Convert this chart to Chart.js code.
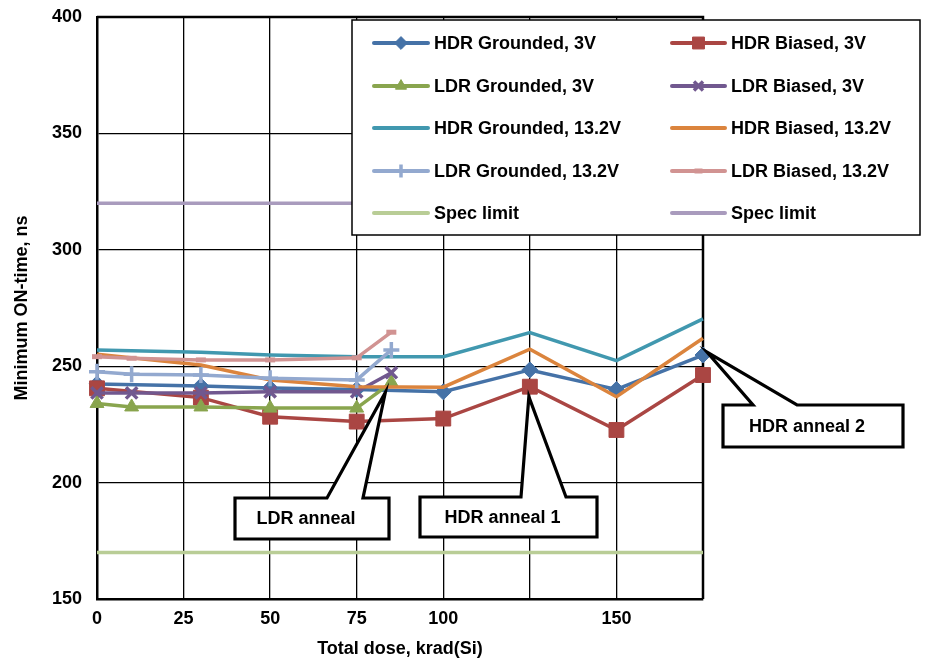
<!DOCTYPE html>
<html><head><meta charset="utf-8">
<script src="https://cdn.jsdelivr.net/npm/chart.js@4.4.1/dist/chart.umd.min.js"></script>
<style>html,body{margin:0;padding:0;background:#fff;} #wrap{width:935px;height:665px;position:relative;}</style>
</head><body><div id="wrap"><canvas id="c" width="935" height="665"></canvas></div>
<script>
// ---- data ----
const ldrDose = [0, 10, 30, 50, 75, 85];
const hdrDose = [0, 30, 50, 75, 100, 125, 150, 175];
const specDose = [0, 175];
const hdrGrounded3V  = [242.4, 241.5, 240.6, 240.0, 239.0, 248.4, 240.0, 254.8];
const hdrBiased3V    = [240.5, 236.5, 228.3, 226.2, 227.5, 241.2, 222.6, 246.2];
const ldrGrounded3V  = [234.0, 232.5, 232.5, 232.0, 232.0, 243.0];
const ldrBiased3V    = [238.5, 238.5, 238.5, 239.0, 239.0, 247.2];
const hdrGrounded13V = [257.0, 256.0, 254.8, 254.1, 254.1, 264.4, 252.4, 270.3];
const hdrBiased13V   = [255.1, 250.5, 244.1, 241.2, 241.0, 257.3, 236.9, 262.0];
const ldrGrounded13V = [247.6, 246.5, 246.2, 244.8, 244.1, 257.0];
const ldrBiased13V   = [254.1, 253.4, 252.7, 252.7, 253.6, 264.6];
const specLow  = [170, 170];
const specHigh = [320, 320];
const xTickValues = [0, 25, 50, 75, 100, 125, 150, 175];
const xTickLabels = ['0', '25', '50', '75', '100', '', '150', ''];
const yTickValues = [150, 200, 250, 300, 350, 400];
const seriesNames = ['HDR Grounded, 3V', 'HDR Biased, 3V', 'LDR Grounded, 3V', 'LDR Biased, 3V',
  'HDR Grounded, 13.2V', 'HDR Biased, 13.2V', 'LDR Grounded, 13.2V', 'LDR Biased, 13.2V',
  'Spec limit', 'Spec limit'];
const calloutTexts = ['LDR anneal', 'HDR anneal 1', 'HDR anneal 2'];

// ---- styling ----
const FONT = "'Liberation Sans', Arial, sans-serif";
const pts = (xs, ys) => xs.map((x, i) => ({x: x, y: ys[i]}));
function ds(i, xs, ys, color, style, radius, bw) {
  return {
    label: seriesNames[i], data: pts(xs, ys),
    borderColor: color, backgroundColor: color,
    pointBorderColor: color, pointBackgroundColor: color,
    borderWidth: 3.5, pointStyle: style || 'circle',
    pointRadius: style ? radius : 0, pointBorderWidth: bw || 1,
    pointHoverRadius: style ? radius : 0,
    tension: 0, clip: false, order: 20 - i
  };
}
const datasets = [
  ds(0, hdrDose, hdrGrounded3V, '#4572A7', 'rectRot', 8, 1),
  ds(1, hdrDose, hdrBiased3V, '#AA4643', 'rect', 10.5, 1),
  ds(2, ldrDose, ldrGrounded3V, '#89A54E', 'triangle', 8, 1),
  ds(3, ldrDose, ldrBiased3V, '#71588F', 'crossRot', 8, 3.5),
  ds(4, hdrDose, hdrGrounded13V, '#4198AF', null),
  ds(5, hdrDose, hdrBiased13V, '#DB843D', null),
  ds(6, ldrDose, ldrGrounded13V, '#93A9CF', 'cross', 8, 3.5),
  ds(7, ldrDose, ldrBiased13V, '#D19392', 'line', 5, 5),
  ds(8, specDose, specLow, '#B9CD96', null),
  ds(9, specDose, specHigh, '#A99BBD', null)
];

function marker(ctx, d, x, y, scale) {
  if (!d.pointRadius) return;
  ctx.save();
  ctx.fillStyle = d.pointBackgroundColor;
  ctx.strokeStyle = d.pointBorderColor;
  ctx.lineWidth = d.pointBorderWidth;
  Chart.helpers.drawPoint(ctx, {pointStyle: d.pointStyle, rotation: 0,
    radius: d.pointRadius * scale, borderWidth: d.pointBorderWidth}, x, y);
  ctx.restore();
}

const framePlugin = {
  id: 'frame',
  beforeDatasetsDraw(chart) {
    const a = chart.chartArea, ctx = chart.ctx;
    ctx.save(); ctx.strokeStyle = '#000'; ctx.lineWidth = 2.5;
    ctx.beginPath();
    ctx.moveTo(a.left, a.top); ctx.lineTo(a.right, a.top); ctx.lineTo(a.right, a.bottom);
    ctx.stroke(); ctx.restore();
  }
};

const calloutPlugin = {
  id: 'callouts',
  afterDatasetsDraw(chart) {
    const xs = chart.scales.x, ys = chart.scales.y, ctx = chart.ctx;
    const defs = [
      {text: calloutTexts[0], tip: [xs.getPixelForValue(ldrDose[5]) - 6, ys.getPixelForValue(ldrGrounded3V[5]) + 10],
       box: [235, 498, 154, 41], base: [327, 363]},
      {text: calloutTexts[1], tip: [xs.getPixelForValue(hdrDose[5]) - 1, ys.getPixelForValue(hdrBiased3V[5]) + 10],
       box: [420, 497, 177, 40], base: [521, 566]},
      {text: calloutTexts[2], tip: [xs.getPixelForValue(hdrDose[7]) + 4, ys.getPixelForValue(hdrGrounded3V[7]) - 3],
       box: [723, 405, 180, 42], base: [753, 797]}
    ];
    ctx.save();
    defs.forEach(c => {
      const [bx, by, bw, bh] = c.box;
      ctx.beginPath();
      ctx.moveTo(bx, by);
      ctx.lineTo(c.base[0], by);
      ctx.lineTo(c.tip[0], c.tip[1]);
      ctx.lineTo(c.base[1], by);
      ctx.lineTo(bx + bw, by);
      ctx.lineTo(bx + bw, by + bh);
      ctx.lineTo(bx, by + bh);
      ctx.closePath();
      ctx.fillStyle = '#fff'; ctx.fill();
      ctx.lineWidth = 3.2; ctx.strokeStyle = '#000'; ctx.lineJoin = 'miter'; ctx.stroke();
      ctx.fillStyle = '#000';
      ctx.font = 'bold 18px ' + FONT;
      ctx.textAlign = 'center'; ctx.textBaseline = 'middle';
      ctx.fillText(c.text, bx + bw / 2 - 6, by + bh / 2 + 1);
    });
    ctx.restore();
  }
};

const legendPlugin = {
  id: 'customLegend',
  afterDraw(chart) {
    const ctx = chart.ctx;
    const box = [352, 20, 568, 215];
    const rows = [43, 86, 128, 171, 213];
    const cols = [{l0: 374, l1: 428, t: 434}, {l0: 672, l1: 725, t: 731}];
    ctx.save();
    ctx.fillStyle = '#fff';
    ctx.fillRect(box[0], box[1], box[2], box[3]);
    ctx.strokeStyle = '#000'; ctx.lineWidth = 1.5;
    ctx.strokeRect(box[0], box[1], box[2], box[3]);
    chart.data.datasets.forEach((d, i) => {
      const c = cols[i % 2], y = rows[Math.floor(i / 2)];
      ctx.strokeStyle = d.borderColor; ctx.lineWidth = 4; ctx.lineCap = 'round';
      ctx.beginPath(); ctx.moveTo(c.l0, y); ctx.lineTo(c.l1, y); ctx.stroke();
      ctx.lineCap = 'butt';
      marker(ctx, d, (c.l0 + c.l1) / 2, y, 0.8);
      ctx.fillStyle = '#000';
      ctx.font = 'bold 18px ' + FONT;
      ctx.textAlign = 'left'; ctx.textBaseline = 'middle';
      ctx.fillText(d.label, c.t, y + 1);
    });
    ctx.restore();
  }
};

new Chart(document.getElementById('c'), {
  type: 'line',
  data: {datasets: datasets},
  plugins: [framePlugin, calloutPlugin, legendPlugin],
  options: {
    responsive: false, animation: false,
    layout: {padding: {top: 17, right: 232, left: 0, bottom: 0}},
    plugins: {legend: {display: false}, tooltip: {enabled: false}},
    scales: {
      x: {
        type: 'linear', min: 0, max: 175,
        afterBuildTicks: s => { s.ticks = xTickValues.map(v => ({value: v})); },
        afterFit: s => { s.height = 66; s.paddingLeft = 0; s.paddingRight = 0; },
        ticks: {
          autoSkip: false, maxRotation: 0, padding: 9, color: '#000',
          font: {family: FONT, size: 18, weight: 'bold'},
          callback: v => xTickLabels[xTickValues.indexOf(v)]
        },
        grid: {color: '#000', lineWidth: 1.3, drawTicks: false},
        border: {color: '#000', width: 2.5},
        title: {display: true, text: 'Total dose, krad(Si)', color: '#000',
          font: {family: FONT, size: 18, weight: 'bold'}, padding: {top: 0, bottom: 5}}
      },
      y: {
        type: 'linear', min: 150, max: 400,
        afterBuildTicks: s => { s.ticks = yTickValues.map(v => ({value: v})); },
        afterFit: s => { s.width = 97; s.paddingTop = 0; s.paddingBottom = 0; },
        ticks: {
          padding: 15, color: '#000',
          font: {family: FONT, size: 18, weight: 'bold'}
        },
        grid: {color: '#000', lineWidth: 1.3, drawTicks: false},
        border: {color: '#000', width: 2.5},
        title: {display: true, text: 'Minimum ON-time, ns', color: '#000',
          font: {family: FONT, size: 18, weight: 'bold'}, padding: {top: 11, bottom: 0}}
      }
    }
  }
});
</script></body></html>
